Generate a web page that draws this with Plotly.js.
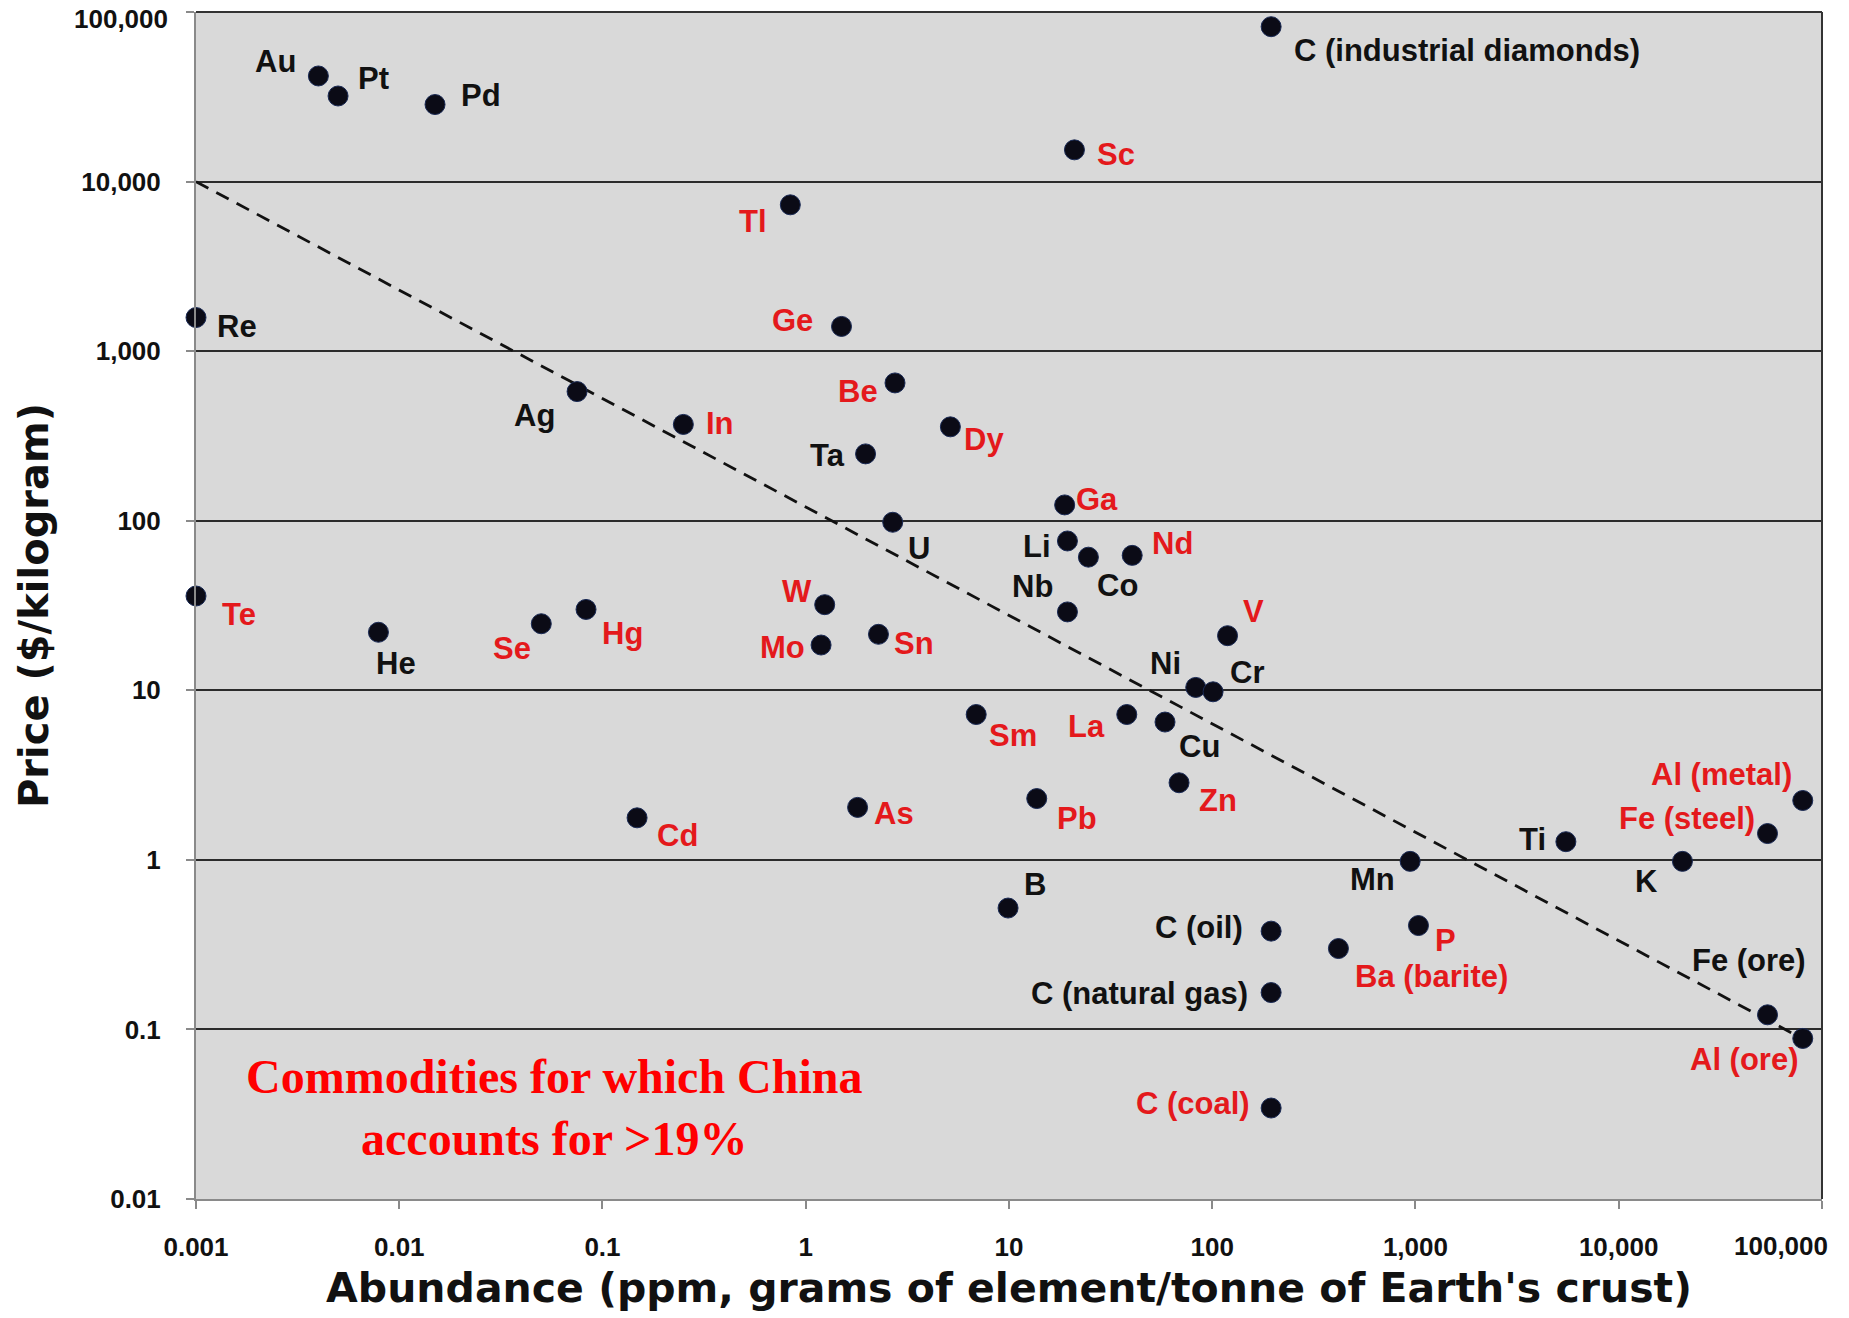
<!DOCTYPE html>
<html><head><meta charset="utf-8">
<script src="https://cdn.plot.ly/plotly-3.0.1.min.js"></script>
<style>html,body{margin:0;padding:0;background:#fff;} #chart{width:1849px;height:1318px;}</style>
</head><body><div id="chart"></div>
<script>
// ---- data ----
const commodities = ['Au','Pt','Pd','C (industrial diamonds)','Sc','Tl','Re','Ge','Be','Ag','In','Dy','Ta','U','Ga','Li','Co','Nd','Nb','Te','He','Se','Hg','W','Mo','Sn','V','Ni','Cr','Sm','La','Cu','Zn','Pb','As','Cd','Al (metal)','Fe (steel)','Ti','Mn','K','B','C (oil)','P','Ba (barite)','C (natural gas)','Fe (ore)','Al (ore)','C (coal)'];
const abundancePpm = [0.004,0.005,0.015,195,21,0.84,0.001,1.5,2.75,0.075,0.25,5.15,1.97,2.68,18.8,19.4,24.6,40.4,19.4,0.001,0.0079,0.05,0.083,1.24,1.19,2.28,119,83,101,6.9,38,58.6,68.7,13.7,1.8,0.148,80500,54000,5500,942,20600,9.9,195,1035,418,195,54000,80500,195];
const pricePerKg = [42000,32000,28500,82000,15400,7300,1580,1400,650,578,370,358,248,98,124,76,61,62.5,29,36,22,24.7,30,32,18.5,21.4,21,10.4,9.8,7.2,7.2,6.5,2.85,2.3,2.04,1.77,2.24,1.43,1.28,0.98,0.98,0.52,0.38,0.41,0.30,0.165,0.122,0.0885,0.0344];
const chinaOver19 = [0,0,0,0,1,1,0,1,1,0,1,1,0,0,1,0,0,1,0,1,0,1,1,1,1,1,1,0,0,1,1,0,1,1,1,1,1,1,0,0,0,0,0,1,1,0,0,1,1];
const trendAbundance = [0.001, 85000];
const trendPrice = [10000, 0.085];
const xTickValues = [0.001,0.01,0.1,1,10,100,1000,10000,100000];
const xTickLabels = ['0.001','0.01','0.1','1','10','100','1,000','10,000','100,000'];
const yTickValues = [0.01,0.1,1,10,100,1000,10000,100000];
const yTickLabels = ['0.01','0.1','1','10','100','1,000','10,000','100,000'];
const noteText = 'Commodities for which China<br>accounts for &gt;19%';
const xTitle = "Abundance (ppm, grams of element/tonne of Earth's crust)";
const yTitle = 'Price ($/kilogram)';

// ---- label placement (style only): anchor, dx px, dy px (down positive) ----
const labelPlacement = {
 'Au':['right',-20,-14],'Pt':['left',18,-17],'Pd':['left',24,-9],'C (industrial diamonds)':['left',21,24],
 'Sc':['left',21,5],'Tl':['right',-21,17],'Re':['left',19,9],'Ge':['right',-27,-6],'Be':['right',-15,9],
 'Ag':['right',-20,24],'In':['left',21,-1],'Dy':['left',12,13],'Ta':['right',-19,2],'U':['left',13,26],
 'Ga':['left',9,-5],'Li':['right',-14,6],'Co':['left',7,28],'Nd':['left',18,-12],'Nb':['right',-12,-25],
 'Te':['left',24,18],'He':['left',-4,31],'Se':['right',-8,25],'Hg':['left',14,24],'W':['right',-11,-13],
 'Mo':['right',-14,2],'Sn':['left',14,9],'V':['left',13,-24],'Ni':['right',-13,-24],'Cr':['left',15,-19],
 'Sm':['left',11,21],'La':['right',-20,12],'Cu':['left',12,24],'Zn':['left',18,18],'Pb':['left',18,20],
 'As':['left',14,6],'Cd':['left',18,18],'Al (metal)':['right',-9,-26],'Fe (steel)':['right',-11,-15],
 'Ti':['right',-18,-2],'Mn':['right',-13,18],'K':['right',-22,20],'B':['left',14,-24],'C (oil)':['right',-26,-4],
 'P':['left',15,15],'Ba (barite)':['left',15,28],'C (natural gas)':['right',-21,1],'Fe (ore)':['right',40,-54],
 'Al (ore)':['right',-2,21],'C (coal)':['right',-19,-5]
};

const RED = '#e4191c';
const FONT = 'Liberation Sans, Arial, sans-serif';
const TITLE_FONT = 'DejaVu Sans, Liberation Sans, Arial, sans-serif';
const TICK_FONT = {family:FONT, size:26, weight:'bold', color:'#111'};

const traces = [
 {x: trendAbundance, y: trendPrice, mode:'lines', line:{color:'#111', width:2.8, dash:'14px,9px'}, hoverinfo:'skip', showlegend:false},
 {x: abundancePpm, y: pricePerKg, mode:'markers', text: commodities, cliponaxis:false,
  marker:{size:20, color:'#0b0b16', line:{color:'#1a2a55', width:1}}, showlegend:false}
];

const annotations = commodities.map((name,i)=>{
  const p = labelPlacement[name];
  return {x: Math.log10(abundancePpm[i]), y: Math.log10(pricePerKg[i]), xref:'x', yref:'y',
    text: name, showarrow:false, xanchor:p[0], yanchor:'middle', xshift:p[1], yshift:-p[2],
    font:{family:FONT, size:31, weight:'bold', color: chinaOver19[i] ? RED : '#111'}};
});
annotations.push({x: -1.24, y: -1.46, xref:'x', yref:'y', text: noteText, showarrow:false,
  xanchor:'center', yanchor:'middle',
  font:{family:'Liberation Serif, Times New Roman, serif', size:48, weight:'bold', color:'#ff0000'}});

// edge tick labels (the axis would hide them as overflowing the page); placed like the reference
const lastX = xTickLabels.length - 1, lastY = yTickLabels.length - 1;
annotations.push({x: 1, y: 0, xref:'paper', yref:'paper', text: xTickLabels[lastX], showarrow:false,
  xanchor:'right', yanchor:'middle', xshift:8, yshift:-47, font:TICK_FONT});
annotations.push({x: 0, y: 1, xref:'paper', yref:'paper', text: yTickLabels[lastY], showarrow:false,
  xanchor:'right', yanchor:'middle', xshift:-26, yshift:-7, font:TICK_FONT});
const xTickText = xTickLabels.map((t,i)=> i===lastX ? '' : t);
const yTickText = yTickLabels.map((t,i)=> i===lastY ? '' : t);

const layout = {
  width:1849, height:1318,
  margin:{l:196, r:27, t:12, b:119, pad:0},
  paper_bgcolor:'#ffffff', plot_bgcolor:'#d9d9d9',
  showlegend:false, hovermode:false,
  font:{family:FONT, color:'#111'},
  xaxis:{type:'log', range:[-3,5.0005], tickvals:xTickValues, ticktext:xTickText,
    showgrid:false, zeroline:false, showline:true, linecolor:'#8a8a8a', linewidth:2,
    ticks:'outside', ticklen:8, tickcolor:'#8a8a8a', tickwidth:2, ticklabelstandoff:16,
    tickfont:TICK_FONT,
    title:{text:xTitle, standoff:12, font:{family:TITLE_FONT, size:41, weight:'bold', color:'#111'}}},
  yaxis:{type:'log', range:[-2,5.0005], tickvals:yTickValues, ticktext:yTickText,
    showgrid:true, gridcolor:'#2b2b2b', gridwidth:2, zeroline:false,
    showline:true, linecolor:'#8a8a8a', linewidth:2,
    ticks:'outside', ticklen:8, tickcolor:'#8a8a8a', tickwidth:2, ticklabelstandoff:20,
    tickfont:TICK_FONT,
    title:{text:yTitle, standoff:20, font:{family:TITLE_FONT, size:40, weight:'bold', color:'#111'}}},
  shapes:[
    {type:'line', xref:'paper', yref:'paper', x0:1, x1:1, y0:0, y1:1, line:{color:'#333', width:2}},
    {type:'line', xref:'paper', yref:'paper', x0:0, x1:1, y0:1, y1:1, line:{color:'#333', width:2}}
  ],
  annotations: annotations
};

Plotly.newPlot('chart', traces, layout, {displayModeBar:false, staticPlot:true});
</script>
</body></html>
